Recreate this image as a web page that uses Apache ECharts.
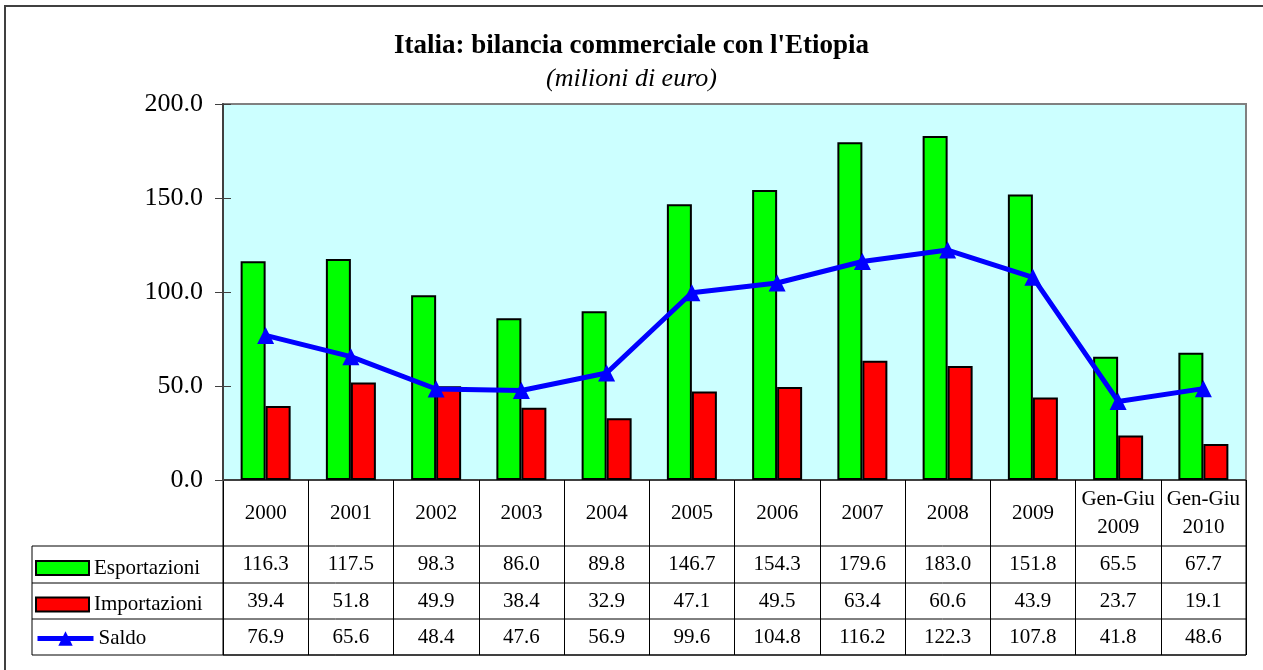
<!DOCTYPE html>
<html>
<head>
    <meta charset="utf-8">
    <title>Italia: bilancia commerciale con l'Etiopia</title>
    <script src="https://cdn.jsdelivr.net/npm/echarts@6/dist/echarts.min.js"></script>
    <style>
        html, body { margin: 0; padding: 0; background: #fff; }
        #chart { width: 1263px; height: 670px; }
    </style>
</head>
<body>
    <div id="chart"></div>

    <script type="text/javascript">
        // dati
        var anni = ['2000', '2001', '2002', '2003', '2004', '2005', '2006', '2007', '2008', '2009', 'Gen-Giu\n2009', 'Gen-Giu\n2010'];
        var esportazioni = [116.3, 117.5, 98.3, 86.0, 89.8, 146.7, 154.3, 179.6, 183.0, 151.8, 65.5, 67.7];
        var importazioni = [39.4, 51.8, 49.9, 38.4, 32.9, 47.1, 49.5, 63.4, 60.6, 43.9, 23.7, 19.1];
        var saldo = [76.9, 65.6, 48.4, 47.6, 56.9, 99.6, 104.8, 116.2, 122.3, 107.8, 41.8, 48.6];
        var yTicks = [0, 50, 100, 150, 200];

        // layout (pixel)
        var plotL = 223, plotR = 1246, plotT = 104, plotB = 480;
        var tabL = 32;
        var righe = [480, 546, 583, 619, 655];   // bordi righe tabella
        var font = 'Liberation Serif';

        function centro(i) { return (righe[i] + righe[i + 1]) / 2 - plotB; }

        function assetesto(idx, arr) {
            return {
                type: 'category',
                gridIndex: 0,
                position: 'bottom',
                offset: 0,
                data: anni,
                axisLine: {show: false},
                axisTick: {show: false},
                axisLabel: {
                    interval: 0,
                    margin: centro(idx),
                    verticalAlign: 'middle',
                    fontFamily: font,
                    fontSize: 21,
                    lineHeight: 28,
                    color: '#000',
                    formatter: arr ? function (v, i) { return arr[i].toFixed(1); } : null
                }
            };
        }

        function legenda(nome, top, w, h, icona) {
            var l = {
                data: [{name: nome, icon: icona}],
                left: tabL + 3,
                top: top - h / 2,
                padding: 0,
                itemWidth: w,
                itemHeight: h,
                itemGap: 0,
                textStyle: {fontFamily: font, fontSize: 21, lineHeight: h, color: '#000'}
            };
            return l;
        }

        var chart = echarts.init(document.getElementById('chart'));

        var grafica = [{
            type: 'rect',
            shape: {x: 5, y: 6, width: 1400, height: 800},
            style: {fill: 'none', stroke: '#404040', lineWidth: 2},
            silent: true
        }, {
            type: 'line',
            shape: {x1: tabL, y1: righe[1], x2: tabL, y2: righe[4]},
            style: {stroke: '#000', lineWidth: 1}
        }];
        for (var r = 1; r < righe.length; r++) {
            grafica.push({
                type: 'line',
                shape: {x1: tabL, y1: righe[r], x2: plotR, y2: righe[r]},
                style: {stroke: '#000', lineWidth: 1}
            });
        }

        var legSaldo = legenda('Saldo', (righe[3] + righe[4]) / 2, 56, 18, undefined);
        legSaldo.lineStyle = {width: 5};

        chart.setOption({
            backgroundColor: '#fff',
            textStyle: {fontFamily: font},
            animation: false,
            title: {
                text: "Italia: bilancia commerciale con l'Etiopia",
                subtext: '(milioni di euro)',
                left: 'center',
                top: 33,
                padding: 0,
                itemGap: 6,
                textStyle: {fontFamily: font, fontSize: 27, fontWeight: 'bold', color: '#000'},
                subtextStyle: {fontFamily: font, fontSize: 26, fontStyle: 'italic', color: '#000'}
            },
            legend: [
                legenda('Esportazioni', (righe[1] + righe[2]) / 2, 53, 14, 'rect'),
                legenda('Importazioni', (righe[2] + righe[3]) / 2, 53, 14, 'rect'),
                legSaldo
            ],
            grid: [{
                left: plotL, top: plotT, width: plotR - plotL, height: plotB - plotT,
                show: true, backgroundColor: '#CCFFFF', borderColor: '#808080', borderWidth: 2
            }, {
                left: plotL, top: righe[0], width: plotR - plotL, height: righe[4] - righe[0],
                show: true, backgroundColor: 'transparent', borderColor: '#000', borderWidth: 1
            }],
            xAxis: [
                assetesto(0, null),
                assetesto(1, esportazioni),
                assetesto(2, importazioni),
                assetesto(3, saldo),
                {
                    type: 'category',
                    gridIndex: 1,
                    data: anni,
                    axisLine: {show: false},
                    axisTick: {show: false},
                    axisLabel: {show: false},
                    splitLine: {show: true, lineStyle: {color: '#000', width: 1}}
                }
            ],
            yAxis: [{
                type: 'value',
                gridIndex: 0,
                min: yTicks[0],
                max: yTicks[yTicks.length - 1],
                interval: 50,
                axisLine: {show: true, lineStyle: {color: '#404040', width: 2}},
                axisTick: {show: true, length: 8, lineStyle: {color: '#404040', width: 1}},
                splitLine: {show: false},
                axisLabel: {
                    margin: 20,
                    fontFamily: font,
                    fontSize: 26,
                    color: '#000',
                    formatter: function (v) { return v.toFixed(1); }
                }
            }, {
                type: 'value',
                gridIndex: 0,
                position: 'left',
                min: yTicks[0],
                max: yTicks[yTicks.length - 1],
                interval: 50,
                axisLine: {show: false},
                axisTick: {show: true, inside: true, length: 8, lineStyle: {color: '#404040', width: 1}},
                axisLabel: {show: false},
                splitLine: {show: false}
            }, {
                type: 'value',
                gridIndex: 1,
                show: false
            }],
            series: [{
                name: 'Esportazioni',
                type: 'bar',
                xAxisIndex: 0,
                yAxisIndex: 0,
                barWidth: 25,
                barGap: '0%',
                itemStyle: {color: '#00FF00', borderColor: '#000', borderWidth: 2},
                data: esportazioni
            }, {
                name: 'Importazioni',
                type: 'bar',
                xAxisIndex: 0,
                yAxisIndex: 0,
                barWidth: 25,
                barGap: '0%',
                itemStyle: {color: '#FF0000', borderColor: '#000', borderWidth: 2},
                data: importazioni
            }, {
                name: 'Saldo',
                type: 'line',
                xAxisIndex: 0,
                yAxisIndex: 0,
                symbol: 'triangle',
                symbolSize: 17,
                z: 5,
                lineStyle: {color: '#0000FF', width: 5},
                itemStyle: {color: '#0000FF'},
                data: saldo
            }],
            graphic: grafica
        });
    </script>
</body>
</html>
